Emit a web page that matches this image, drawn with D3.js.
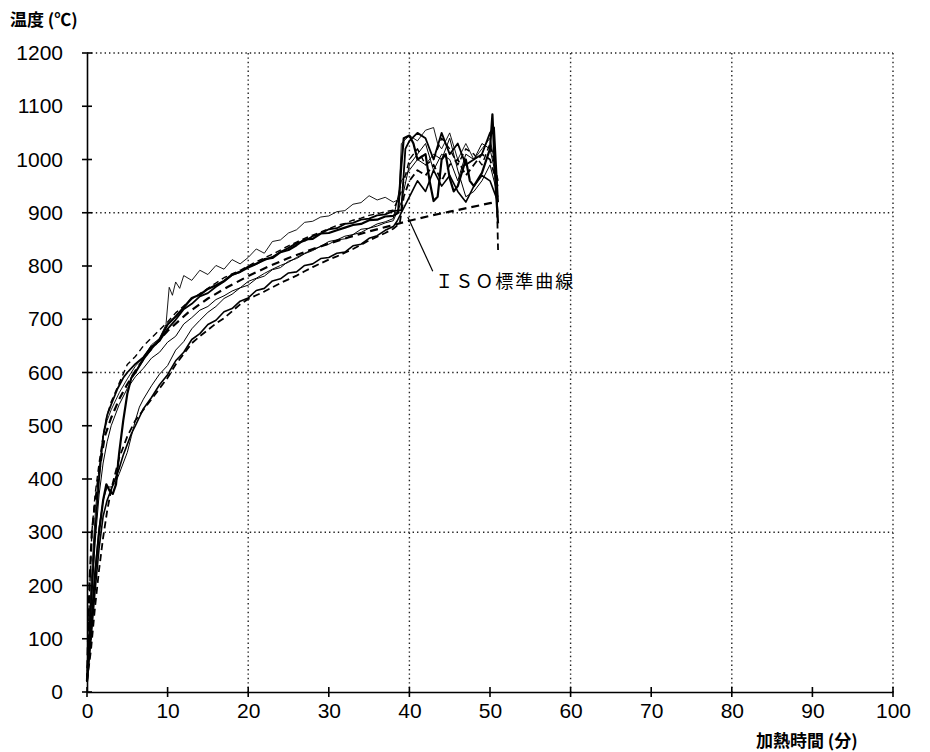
<!DOCTYPE html>
<html><head><meta charset="utf-8">
<script src="https://cdn.jsdelivr.net/npm/d3@7"></script>
<style>
body{margin:0;background:#fff;}
svg{display:block;}
</style></head>
<body>
<svg id="c" width="930" height="752"></svg>
<script>
// ---- data (minutes, °C) ----
const xTicks = [0,10,20,30,40,50,60,70,80,90,100];
const yTicks = [0,100,200,300,400,500,600,700,800,900,1000,1100,1200];
const xGrid = [20,40,60,80,100];
const yGrid = [300,600,900,1200];

const isoCurve = [[0,20],[0.3,200],[0.6,300],[1,355],[1.5,412],[2.2,480],[3,515],[4,550],[5,578],[6,603],[7.5,636],[10,678],[12.5,712],[15,739],[17.5,761],[20,781],[22.5,799],[25,815],[27.5,829],[30,842],[32.5,854],[35,865],[37.5,875],[40,885],[42.5,894],[45,902],[47.5,910],[50,918],[51,921]];

const testMain = [[0,20],[0.5,120],[1,220],[1.5,300],[2,360],[2.4,390],[2.8,378],[3.2,372],[3.6,390],[4,450],[4.5,510],[5,560],[5.5,590],[6,600],[7,625],[8,645],[9,662],[10,690],[11,705],[12,722],[13,740],[14,746],[15,757],[16,764],[17,772],[18,784],[19,789],[20,797],[21,804],[22,813],[23,815],[24,826],[25,830],[26,839],[27,850],[28,851],[29,861],[30,862],[31,867],[32,872],[33,877],[34,879],[35,886],[36,887],[37,893],[38,894],[38.6,900],[39,990],[39.3,1040],[40,1045],[40.5,1030],[41,1000],[42,1010],[42.5,960],[43,922],[43.5,930],[44,1000],[44.5,1010],[45,965],[45.5,940],[46,950],[47,1000],[47.5,960],[48,950],[49,975],[50,1020],[50.3,1085],[50.7,950],[51,880]];

const testTop = [[0,20],[0.5,200],[1,330],[1.5,420],[2,480],[2.5,510],[3,530],[4,562],[5,588],[6,612],[7,628],[8,652],[9,664],[9.8,690],[10.2,760],[10.6,745],[11,770],[11.5,758],[12,782],[13,773],[14,792],[15,784],[16,801],[17,794],[18,812],[19,804],[20,816],[21,832],[22,824],[23,846],[24,849],[25,862],[26,868],[27,882],[28,884],[29,892],[30,894],[31,902],[32,904],[33,916],[34,919],[35,932],[36,924],[37,929],[38,920],[38.7,925],[39,1030],[40,1045],[41,1035],[42,1055],[43,1060],[43.5,1030],[44,1020],[45,1050],[46,1000],[47,1030],[48,1000],[49,1020],[50,1040],[50.5,1000],[51,900]];

const testMid = [[0,20],[0.5,150],[1,280],[1.5,370],[2,430],[2.5,470],[3,500],[4,540],[5,570],[6,592],[7,608],[8,627],[9,638],[10,657],[11,668],[12,691],[13,703],[14,717],[15,724],[16,737],[17,744],[18,753],[19,759],[20,771],[21,777],[22,786],[23,794],[24,801],[25,807],[26,816],[27,824],[28,831],[29,837],[30,846],[31,849],[32,856],[33,859],[34,869],[35,871],[36,879],[37,883],[38,889],[39,960],[40,980],[41,1000],[42,990],[43,1010],[44,1000],[45,1040],[46,980],[47,930],[48,940],[49,960],[50,990],[51,930]];

const testLowDash = [[0,20],[0.5,80],[1,160],[1.5,230],[2,290],[2.5,340],[3,380],[3.5,410],[4,440],[5,480],[6,510],[7,530],[8,550],[9,570],[10,590],[11,615],[12,635],[13,655],[14,668],[15,680],[16,692],[17,702],[18,715],[19,728],[20,738],[21,745],[22,752],[23,760],[24,768],[25,775],[26,782],[27,790],[28,798],[29,805],[30,812],[31,818],[32,825],[33,832],[34,840],[35,848],[36,855],[37,862],[38,870],[38.8,880],[39.3,930],[40,960],[41,980],[42,970],[43,990],[44,960],[45,990],[46,1000],[47,970],[48,990],[49,1010],[50,1000],[50.8,960],[51,830]];

const testLowest = [[0,20],[0.5,100],[1,190],[1.5,270],[2,330],[2.5,360],[3,380],[3.5,400],[4,420],[4.5,445],[5,465],[5.5,485],[6,500],[7,532],[8,553],[9,577],[10,596],[11,622],[12,638],[13,662],[14,673],[15,690],[16,698],[17,714],[18,720],[19,734],[20,740],[21,754],[22,758],[23,772],[24,776],[25,787],[26,789],[27,801],[28,804],[29,814],[30,816],[31,824],[32,826],[33,838],[34,841],[35,852],[36,857],[37,867],[38,874],[38.5,885],[39,900],[40,930],[41,960],[42,940],[43,980],[44,950],[45,970],[46,940],[47,920],[48,950],[49,970],[50,960],[51,920]];

const testBulge = [[0,20],[0.5,120],[1,230],[1.5,310],[2,360],[2.5,385],[3,385],[3.5,392],[4,410],[4.5,430],[5,450],[5.5,480],[6,510],[6.5,535],[7,550],[8,575],[9,597],[10,613],[11,642],[12,658],[13,682],[14,698],[15,713],[16,724],[17,739],[18,747],[19,759],[20,764],[21,776],[22,781],[23,793],[24,797],[25,809],[26,814],[27,823],[28,829],[29,837],[30,841],[31,849],[32,851],[33,859],[34,863],[35,871],[36,875],[37,881],[38,885],[39,920],[40,990],[41,1010],[42,1030],[43,980],[44,1010],[45,1000],[46,960],[47,1010],[48,1000],[49,1030],[50,1020],[51,950]];

const testUpDash = [[0,20],[0.3,180],[0.6,300],[1,370],[1.5,430],[2,480],[2.5,520],[3,545],[4,580],[5,615],[6,630],[7,650],[8,665],[9,680],[10,695],[11,712],[12,725],[13,738],[14,748],[15,758],[16,768],[17,778],[18,785],[19,792],[20,800],[21,808],[22,815],[23,822],[24,830],[25,838],[26,845],[27,852],[28,858],[29,864],[30,870],[31,876],[32,880],[33,886],[34,890],[35,895],[36,898],[37,902],[38,905],[39,940],[40,1000],[41,1020],[42,990],[43,1000],[44,1040],[45,1020],[46,990],[47,1020],[48,1010],[49,990],[50,1030],[51,960]];

const testUpper = [[0,20],[0.5,170],[1,300],[1.5,400],[2,480],[2.5,520],[3,540],[3.8,570],[4.5,590],[5,600],[6,616],[7,629],[8,649],[9,659],[10,682],[11,699],[12,719],[13,729],[14,743],[15,749],[16,761],[17,771],[18,783],[19,789],[20,799],[21,804],[22,811],[23,817],[24,826],[25,834],[26,843],[27,847],[28,856],[29,861],[30,869],[31,871],[32,879],[33,881],[34,887],[35,889],[36,895],[37,897],[38,903],[39,905],[39.5,1020],[40,1035],[41,1050],[42,1040],[43,1000],[44,1050],[45,1010],[46,1030],[47,990],[48,1000],[49,1010],[50,1050],[50.5,1060],[51,920]];

const seriesList = [
  {data: testLowest, w: 1.6, dash: null},
  {data: testBulge, w: 1.0, dash: null},
  {data: testMid, w: 1.0, dash: null},
  {data: testTop, w: 0.9, dash: null},
  {data: testUpper, w: 1.8, dash: null},
  {data: testMain, w: 2.2, dash: null},
  {data: testLowDash, w: 1.8, dash: "7,4"},
  {data: testUpDash, w: 1.4, dash: "6,4"},
  {data: isoCurve, w: 2.2, dash: "8,5"}
];

const annotText = "ＩＳＯ標準曲線";
const yTitle = "温度 (℃)";
const xTitle = "加熱時間 (分)";

// ---- layout ----
const L = 87, R = 893, T = 53, B = 692;
const svg = d3.select("#c");
const x = d3.scaleLinear().domain([0,100]).range([L,R]);
const y = d3.scaleLinear().domain([0,1200]).range([B,T]);

// grid (dotted)
svg.append("g").selectAll("line.vg").data(xGrid).join("line")
  .attr("x1", d=>x(d)).attr("x2", d=>x(d)).attr("y1", T).attr("y2", B)
  .attr("stroke", "#222").attr("stroke-width", 1.4).attr("stroke-dasharray", "1.4,3");
svg.append("g").selectAll("line.hg").data(yGrid).join("line")
  .attr("x1", L).attr("x2", R).attr("y1", d=>y(d)).attr("y2", d=>y(d))
  .attr("stroke", "#222").attr("stroke-width", 1.4).attr("stroke-dasharray", "1.4,3");

// axes
const fmt = d3.format("d");
const yAxis = d3.axisLeft(y).tickValues(yTicks).tickFormat(fmt).tickSize(0).tickPadding(24);
const gy = svg.append("g").attr("transform", `translate(${L},0)`).call(yAxis);
const xAxis = d3.axisBottom(x).tickValues(xTicks).tickFormat(fmt).tickSize(0).tickPadding(10);
const gx = svg.append("g").attr("transform", `translate(0,${B})`).call(xAxis);
[gx, gy].forEach(g => {
  g.select(".domain").attr("stroke", "#000").attr("stroke-width", 1.6);
  g.selectAll("text").attr("font-family", "'Liberation Sans', Arial, sans-serif")
    .attr("font-size", 21).attr("fill", "#000");
});
gx.selectAll("text").attr("dy", "0.75em");
// cross ticks
svg.append("g").selectAll("line").data(yTicks).join("line")
  .attr("x1", L-5).attr("x2", L+5).attr("y1", d=>y(d)).attr("y2", d=>y(d))
  .attr("stroke", "#000").attr("stroke-width", 1.6);
svg.append("g").selectAll("line").data(xTicks).join("line")
  .attr("x1", d=>x(d)).attr("x2", d=>x(d)).attr("y1", B-5).attr("y2", B+5)
  .attr("stroke", "#000").attr("stroke-width", 1.6);

// series
const line = d3.line().x(d=>x(d[0])).y(d=>y(d[1])).curve(d3.curveLinear);
svg.append("g").selectAll("path").data(seriesList).join("path")
  .attr("d", d=>line(d.data))
  .attr("fill", "none").attr("stroke", "#000")
  .attr("stroke-width", d=>d.w)
  .attr("stroke-linejoin", "round")
  .attr("stroke-dasharray", d=>d.dash);

// annotation
svg.append("line")
  .attr("x1", x(39.8)).attr("y1", y(892)).attr("x2", x(42.9)).attr("y2", y(790))
  .attr("stroke", "#000").attr("stroke-width", 1.2);
svg.append("text").attr("x", x(43.2)).attr("y", y(758))
  .attr("font-family", "'Noto Sans CJK JP', sans-serif").attr("font-size", 18)
  .attr("letter-spacing", 2).attr("fill", "#000").text(annotText);

// titles
svg.append("text").attr("x", 10).attr("y", 26)
  .attr("font-family", "'Noto Sans CJK JP', sans-serif").attr("font-size", 17)
  .attr("font-weight", "bold").attr("fill", "#000").text(yTitle);
svg.append("text").attr("x", 756).attr("y", 747)
  .attr("font-family", "'Noto Sans CJK JP', sans-serif").attr("font-size", 17)
  .attr("font-weight", "bold").attr("fill", "#000").text(xTitle);
</script>
</body></html>
